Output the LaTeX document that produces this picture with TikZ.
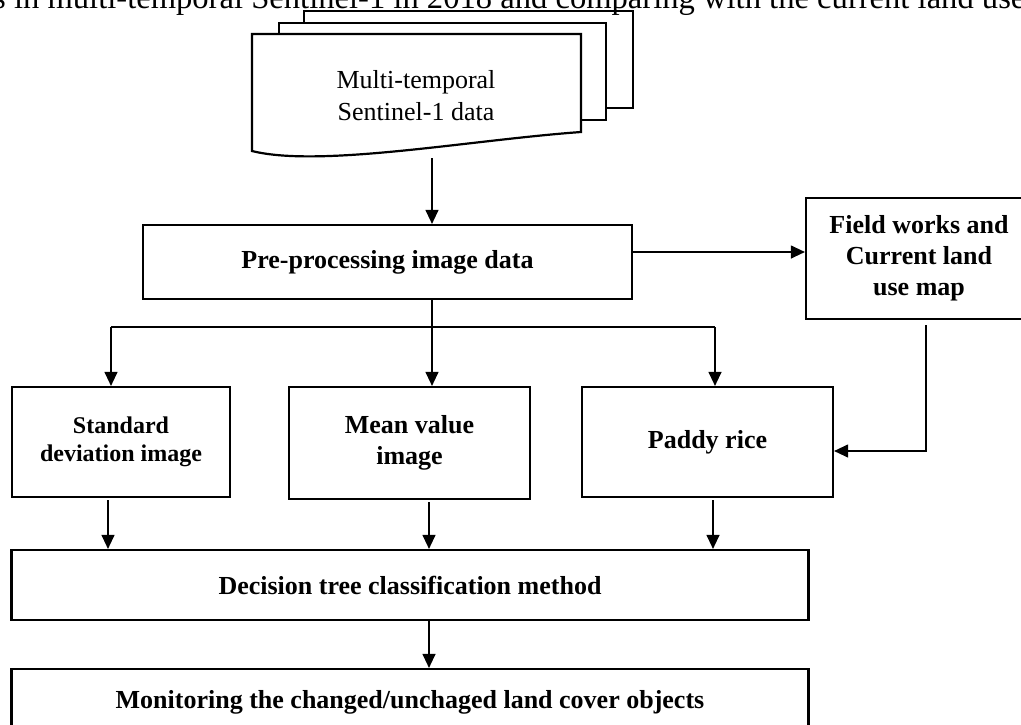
\documentclass[tikz,border=0pt]{standalone}
\usepackage{fontspec}
\setmainfont{Liberation Serif}
\usetikzlibrary{arrows.meta,calc}
\begin{document}
\begin{tikzpicture}[x=1pt,y=-1pt,
  box/.style={draw, line width=2.2pt, fill=white, inner sep=0pt, align=center,
    font=\fontsize{26}{31}\selectfont\bfseries},
  conn/.style={line width=1.2pt},
  arr/.style={conn, -{Triangle[length=14pt,width=13pt]}},
  sheet/.style={draw, line width=2.2pt, fill=white, line join=miter}]
\useasboundingbox (0,0) rectangle (1021,724);
\clip (0,0) rectangle (1021,724);

% multi-document stack
\draw[sheet] (304,11) rectangle (633,108);
\draw[sheet] (279,23) rectangle (606,120);
\draw[sheet] (252,151) -- (252,34) -- (581,34) -- (581,132)
  .. controls (470,140) and (320,168) .. (252,151) -- cycle;
\node[inner sep=0pt, align=center, font=\fontsize{26}{32}\selectfont] (doc) at (416,96)
  {Multi-temporal\\Sentinel-1 data};
\coordinate (docout) at (432,158);

% cut-off caption at the top
\node[anchor=base west, inner sep=0pt, font=\fontsize{32.6}{40}\selectfont] (cap) at (-7,8)
  {s in multi-temporal Sentinel-1 in 2018 and comparing with the current land use m};

% boxes
\node[box, minimum width=489pt, minimum height=74pt] (pre) at (387.5,262) {Pre-processing image data};
\node[box, minimum width=226pt, minimum height=121pt] (field) at (919,258.5) {Field works and\\Current land\\use map};
\node[box, minimum width=218pt, minimum height=110pt,
  font=\fontsize{24}{28}\selectfont\bfseries] (std) at (121,442) {Standard\\deviation image};
\node[box, minimum width=241pt, minimum height=112pt] (mean) at (409.5,443) {Mean value\\image};
\node[box, minimum width=251pt, minimum height=110pt] (paddy) at (707.5,442) {Paddy rice};
\node[box, minimum width=797pt, minimum height=70pt] (dec) at (410,585) {Decision tree classification method};
\node[box, minimum width=797pt, minimum height=66pt] (mon) at (410,702) {Monitoring the changed/unchaged land cover objects};

% connectors
\draw[arr] (docout) -- (docout |- pre.north);
\coordinate (j0) at (432,327);
\coordinate (jl) at (111,327);
\coordinate (jr) at (715,327);
\draw[conn] (pre.south -| j0) -- (j0);
\draw[conn] (jl) -- (jr);
\draw[arr] (jl) -- (jl |- std.north);
\draw[arr] (j0) -- (j0 |- mean.north);
\draw[arr] (jr) -- (jr |- paddy.north);
\draw[arr] (pre.east |- 0,252) -- (field.west |- 0,252);
\coordinate (fdown) at (926,325);
\draw[arr] (fdown) |- (paddy.east |- 0,451);
\draw[arr, shorten <=2pt] (std.south -| 108,0) -- (dec.north -| 108,0);
\draw[arr, shorten <=2pt] (mean.south -| 429,0) -- (dec.north -| 429,0);
\draw[arr, shorten <=2pt] (paddy.south -| 713,0) -- (dec.north -| 713,0);
\draw[arr] (dec.south -| 429,0) -- (mon.north -| 429,0);
\end{tikzpicture}
\end{document}
